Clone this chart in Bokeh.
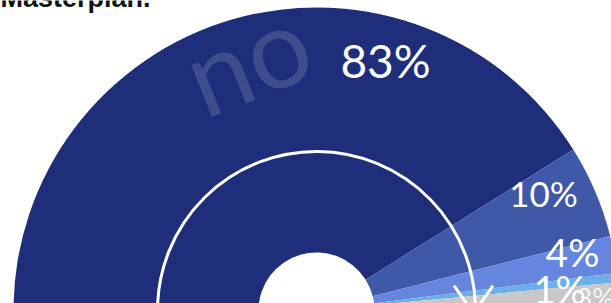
import numpy as np
from bokeh.plotting import figure
from bokeh.models import Range1d, ColumnDataSource
from bokeh.core.properties import value
from bokeh.embed import file_html
from bokeh.resources import INLINE

# ---- data ----
categories = ["no", "b", "c", "d", "e"]
values = [83, 10, 4, 1, 3]
pct_labels = ["83%", "10%", "4%", "1%", "3%"]
colors = ["#1F2E7A", "#4058A8", "#6585DE", "#6CAEE8", "#C8C8C8"]
title_text = "Masterplan."
big_word = "no"

# ---- layout (styles / positions, not data) ----
CX_PX, CY_PX = 316, 310          # donut centre in page pixels
R_OUT, R_IN, R_RING = 303, 58, 159
BASE_SHIFT = 0.36                # svg baseline correction (em)
label_pos = [(69, 233), (227, 105), (256, 44), (217, 8), (260, 3)]
label_size = [46, 35, 39, 38, 27]
label_align = ["center", "center", "center", "left", "left"]
label_color = ["white", "white", "white", "white", "#F4F4F4"]

W, H = 611, 303
p = figure(width=W, height=H, output_backend="svg", toolbar_location=None,
           x_axis_type=None, y_axis_type=None, min_border=0,
           x_range=Range1d(-CX_PX, -CX_PX + W),
           y_range=Range1d(CY_PX - H, CY_PX),
           background_fill_color="white", border_fill_color="white")
p.outline_line_color = None
p.grid.visible = False

vals = np.array(values, dtype=float)
scale = np.pi / vals.sum()
cum_end = np.cumsum(vals) * scale
cum_start = cum_end - vals * scale
src = ColumnDataSource(dict(
    cat=categories,
    start=np.pi - cum_end,
    end=np.pi - cum_start,
    color=colors,
))
p.annular_wedge(x=0, y=0, inner_radius=R_IN, outer_radius=R_OUT,
                start_angle="start", end_angle="end", fill_color="color",
                line_color=None, source=src)

# big translucent word
NO_SIZE, NO_ANG = 110, 0.38
nx, ny = -113, 194
p.text(x=[nx - BASE_SHIFT * NO_SIZE * np.sin(NO_ANG)],
       y=[ny + BASE_SHIFT * NO_SIZE * np.cos(NO_ANG)],
       text=[big_word], angle=NO_ANG,
       text_font=value("Lato"), text_font_size=f"{NO_SIZE}px",
       text_font_style="normal",
       text_color="white", text_alpha=0.15,
       text_align="left", text_baseline="alphabetic")

# percentage labels
for (lx, ly), t, s, a, c in zip(label_pos, pct_labels, label_size, label_align, label_color):
    p.text(x=[lx], y=[ly + BASE_SHIFT * s], text=[t], text_font=value("Lato"),
           text_font_size=f"{s}px",
           text_color=c, text_align=a, text_baseline="alphabetic")

# white ring with arrow
p.arc(x=0, y=0, radius=R_RING, start_angle=-0.02, end_angle=np.pi,
      line_color="white", line_width=3)
apex = (157, -3)
arm_len, arm_ang = 34, np.radians(35)
xs0 = [apex[0] - arm_len * np.sin(arm_ang), apex[0] + arm_len * np.sin(arm_ang)]
ys0 = [apex[1] + arm_len * np.cos(arm_ang)] * 2
p.segment(x0=xs0, y0=ys0, x1=[apex[0]] * 2, y1=[apex[1]] * 2,
          line_color="white", line_width=3)

# title (cut at top)
p.text(x=[0 - CX_PX], y=[CY_PX + 3], text=[title_text],
       text_font=value("Liberation Sans"), text_font_style="bold",
       text_font_size="27px", text_color="#111111",
       text_align="left", text_baseline="alphabetic")

open("out.html", "w").write(file_html(p, INLINE))
